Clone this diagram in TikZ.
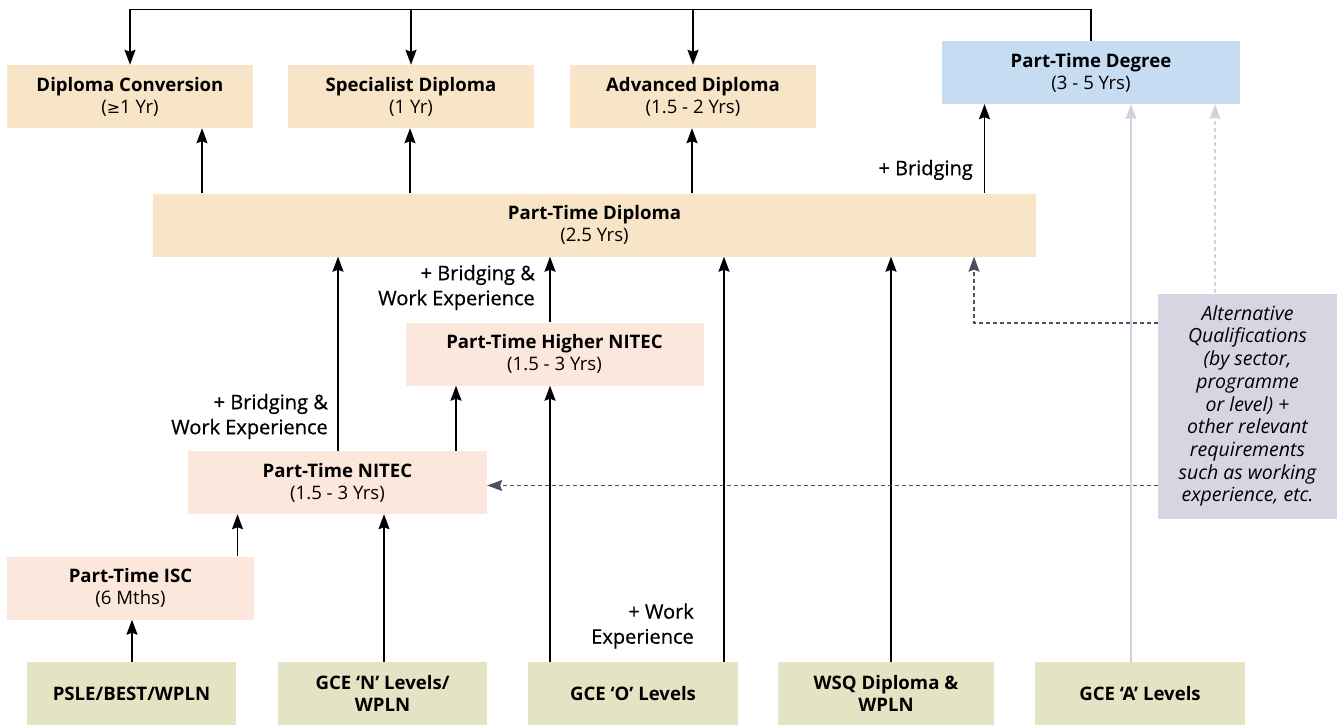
\documentclass[tikz,border=0pt]{standalone}
\usepackage{fontspec}
\setmainfont{Open Sans}
\newfontfamily\medfont{Open Sans}[FakeBold=0.6]
\newfontfamily\symfont{DejaVu Sans}
\usetikzlibrary{arrows.meta,calc}
\definecolor{beige}{HTML}{F8E5C8}
\definecolor{salmon}{HTML}{FCE7DC}
\definecolor{skyblue}{HTML}{C6DCF2}
\definecolor{olive}{HTML}{E4E4C4}
\definecolor{lavender}{HTML}{D8D5E2}
\definecolor{lightarr}{HTML}{D3D1DF}
\definecolor{darkdash}{HTML}{4B4F5E}
\begin{document}
\begin{tikzpicture}[x=1pt,y=-1pt,
  box/.style={inner sep=0pt, align=center, minimum height=63, font=\fontsize{18.6}{22}\selectfont},
  lbl/.style={inner sep=0pt, align=right, anchor=east, font=\medfont\fontsize{20}{25}\selectfont},
  arr/.style={line width=1.8pt, -{Stealth[length=15pt,width=11pt,inset=2pt]}},
  plain/.style={line width=1.3pt},
  grayarr/.style={line width=1.8pt, lightarr, -{Stealth[length=15pt,width=11pt,inset=2pt]}},
  graydash/.style={line width=1.3pt, lightarr, dash pattern=on 4pt off 3pt, -{Stealth[length=15pt,width=11pt,inset=2pt]}},
  darkdasharr/.style={line width=1.2pt, darkdash, dash pattern=on 4pt off 3pt, -{Stealth[length=15pt,width=11pt,inset=2pt]}}
]
\useasboundingbox (0,0) rectangle (1342,725);

% top row
\node[box, fill=beige, minimum width=246] (dc) at (130,96.5) {\textbf{Diploma Conversion}\\({\symfont\fontsize{16}{22}\selectfont ≥}1 Yr)};
\node[box, fill=beige, minimum width=246] (sd) at (411,96.5) {\textbf{Specialist Diploma}\\(1 Yr)};
\node[box, fill=beige, minimum width=246] (ad) at (693,96.5) {\textbf{Advanced Diploma}\\(1.5 - 2 Yrs)};
\node[box, fill=skyblue, minimum width=298] (ptdeg) at (1091,72.5) {\textbf{Part-Time Degree}\\(3 - 5 Yrs)};

% middle
\node[box, fill=beige, minimum width=883] (ptd) at (594.5,225) {\textbf{Part-Time Diploma}\\(2.5 Yrs)};
\node[box, fill=salmon, minimum width=298] (hnitec) at (554.5,354) {\textbf{Part-Time Higher NITEC}\\(1.5 - 3 Yrs)};
\node[box, fill=salmon, minimum width=299] (nitec) at (337.5,482.5) {\textbf{Part-Time NITEC}\\(1.5 - 3 Yrs)};
\node[box, fill=salmon, minimum width=247] (isc) at (130.5,588) {\textbf{Part-Time ISC}\\(6 Mths)};

% alternative qualifications
\node[box, fill=lavender, minimum width=179, minimum height=225, font=\itshape\fontsize{19.5}{22.7}\selectfont] (alt) at (1247.5,406)
 {Alternative\\Qualifications\\(by sector,\\programme\\or level) +\\other relevant\\requirements\\such as working\\experience, etc.};

% bottom row
\node[box, fill=olive, minimum width=209] (psle) at (131.5,693.5) {\textbf{PSLE/BEST/WPLN}};
\node[box, fill=olive, minimum width=209] (gcen) at (382.5,693.5) {\textbf{GCE ‘N’ Levels/}\\\textbf{WPLN}};
\node[box, fill=olive, minimum width=210] (gceo) at (633,693.5) {\textbf{GCE ‘O’ Levels}};
\node[box, fill=olive, minimum width=216] (wsq) at (886,693.5) {\textbf{WSQ Diploma \&}\\\textbf{WPLN}};
\node[box, fill=olive, minimum width=210] (gcea) at (1140,693.5) {\textbf{GCE ‘A’ Levels}};

% column / row coordinates
\coordinate (topy) at (0,9.5);
\coordinate (x132) at (132,0);
\coordinate (x202) at (202,0);
\coordinate (x237) at (237.5,0);
\coordinate (x338) at (338,0);
\coordinate (x384) at (384,0);
\coordinate (x410) at (410,0);
\coordinate (x456) at (456,0);
\coordinate (x550) at (550,0);
\coordinate (x692) at (692,0);
\coordinate (x724) at (724,0);
\coordinate (x891) at (891,0);
\coordinate (x974) at (974,0);
\coordinate (x984) at (984.5,0);
\coordinate (x1130) at (1131,0);
\coordinate (x1215) at (1215,0);
\coordinate (y323) at (0,323);
\coordinate (y485) at (0,485.5);

% top bracket
\draw[plain] (ptdeg.north) -- (ptdeg.north |- topy) -- (dc.north |- topy);
\draw[arr] (dc.north |- topy) -- (dc.north);
\draw[arr] (sd.north |- topy) -- (sd.north);
\draw[arr] (ad.north |- topy) -- (ad.north);

% diploma upward
\draw[arr] (x202 |- ptd.north) -- (x202 |- dc.south);
\draw[arr] (x410 |- ptd.north) -- (x410 |- sd.south);
\draw[arr] (x692 |- ptd.north) -- (x692 |- ad.south);
\draw[arr] (x984 |- ptd.north) -- (x984 |- ptdeg.south);

% into diploma
\draw[arr] (x338 |- nitec.north) -- (x338 |- ptd.south);
\draw[arr] (x550 |- hnitec.north) -- (x550 |- ptd.south);
\draw[arr] (x724 |- gceo.north) -- (x724 |- ptd.south);
\draw[arr] (x891 |- wsq.north) -- (x891 |- ptd.south);

% into higher nitec
\draw[arr] (x456 |- nitec.north) -- (x456 |- hnitec.south);
\draw[arr] (x550 |- gceo.north) -- (x550 |- hnitec.south);

% into nitec
\draw[arr] (x237 |- isc.north) -- (x237 |- nitec.south);
\draw[arr] (x384 |- gcen.north) -- (x384 |- nitec.south);

% into isc
\draw[arr] (x132 |- psle.north) -- (x132 |- isc.south);

% gray into degree
\draw[grayarr] (x1130 |- gcea.north) -- (x1130 |- ptdeg.south);
\draw[graydash] (x1215 |- alt.north) -- (x1215 |- ptdeg.south);

% dashed from alternative qualifications
\draw[darkdasharr] (alt.west |- y323) -| (x974 |- ptd.south);
\draw[darkdasharr] (alt.west |- y485) -- (nitec.east |- y485);

% labels
\node[lbl] (lb1) at (973,170) {+ Bridging};
\node[lbl] (lb2) at (535,287.5) {+ Bridging \&\\Work Experience};
\node[lbl] (lb3) at (328,416.5) {+ Bridging \&\\Work Experience};
\node[lbl] (lb4) at (694,626) {+ Work\\Experience};
\end{tikzpicture}
\end{document}
